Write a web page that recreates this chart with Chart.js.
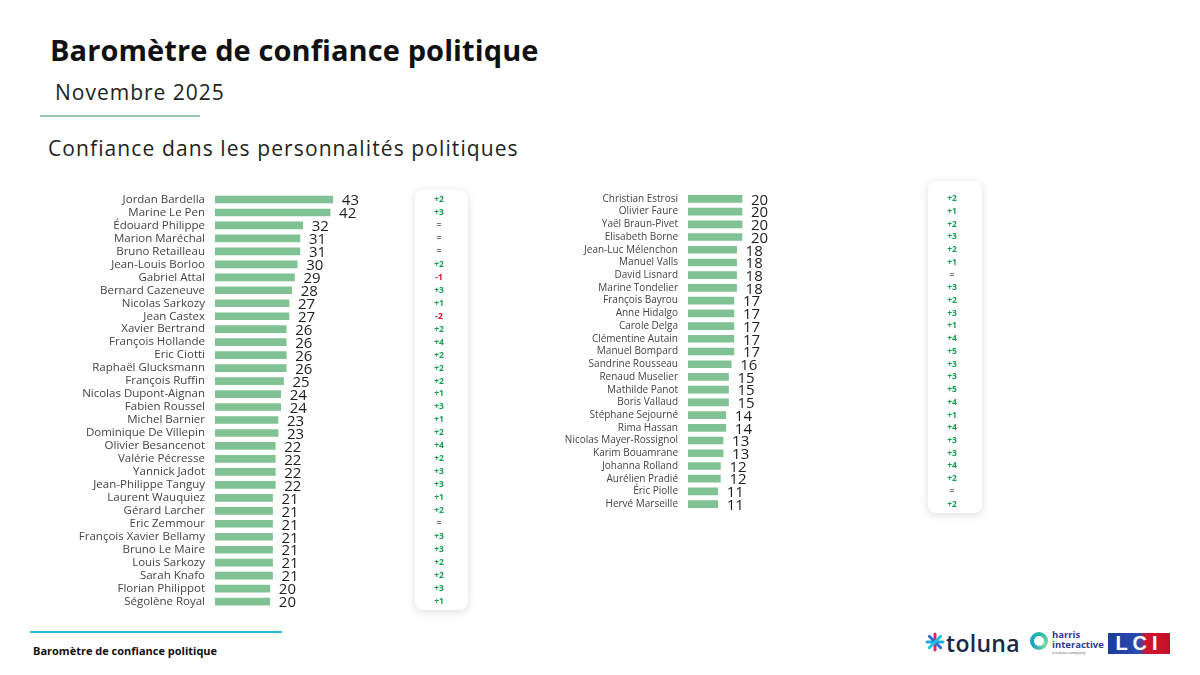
<!DOCTYPE html>
<html lang="fr">
<head>
<meta charset="utf-8">
<title>Baromètre de confiance politique</title>
<script src="https://cdn.jsdelivr.net/npm/chart.js@4.4.1/dist/chart.umd.min.js"></script>
<style>
  body { margin: 0; width: 1200px; height: 675px; background: #fff; position: relative; overflow: hidden; font-family: "Open Sans", sans-serif; color: #1d1d1d; }
  .abs { position: absolute; white-space: nowrap; }
  #title { left: 50px; top: 30px; font-size: 29px; font-weight: 700; color: #111; letter-spacing: 0.1px; }
  #month { left: 55px; top: 78px; font-size: 21px; color: #222; letter-spacing: 1px; }
  #rule1 { left: 40px; top: 115px; width: 160px; height: 2px; background: #9cc3b6; }
  #subtitle { left: 48px; top: 134px; font-size: 21px; color: #222; letter-spacing: 1.1px; }
  #rule2 { left: 30px; top: 631px; width: 252px; height: 2px; background: #2bb8da; }
  #foot { left: 33px; top: 643px; font-size: 11px; font-weight: 700; color: #111; }
  canvas { position: absolute; }
  #toluna { left: 946px; top: 627px; font-size: 23px; font-weight: 600; color: #1b2748; letter-spacing: 0.3px; }
  #ring { left: 1030px; top: 632px; width: 18px; height: 18px; border-radius: 50%; background: conic-gradient(#1fb6a6, #7ddc9b, #1aa0c8, #1fb6a6); }
  #ring::after { content: ""; position: absolute; left: 4px; top: 4px; width: 10px; height: 10px; border-radius: 50%; background: #fff; }
  #harris { left: 1052px; top: 630px; font-size: 9.5px; font-weight: 700; color: #2c3a8f; line-height: 9.5px; }
  #harris small { display: block; font-size: 4px; line-height: 7px; font-weight: 400; color: #555; }
  #lci { left: 1108px; top: 633px; width: 62px; height: 21px; background: linear-gradient(90deg, #1d3c98 0%, #2a4bb0 50%, #d4142d 62%, #c2102a 100%); color: #fff; font-size: 20px; font-weight: 800; line-height: 21px; text-align: center; letter-spacing: 5px; font-family: "Liberation Sans", sans-serif; }
</style>
</head>
<body>
<div id="title" class="abs">Baromètre de confiance politique</div>
<div id="month" class="abs">Novembre 2025</div>
<div id="rule1" class="abs"></div>
<div id="subtitle" class="abs">Confiance dans les personnalités politiques</div>

<canvas id="left" width="440" height="450" style="left:40px; top:175px;"></canvas>
<canvas id="right" width="445" height="360" style="left:550px; top:170px;"></canvas>

<div id="rule2" class="abs"></div>
<div id="foot" class="abs">Baromètre de confiance politique</div>

<svg class="abs" style="left:925px; top:632px;" width="20" height="20" viewBox="0 0 20 20">
  <g stroke-width="3" stroke-linecap="round">
    <line x1="10" y1="2" x2="10" y2="18" stroke="#e6207a"/>
    <line x1="2" y1="10" x2="18" y2="10" stroke="#1fa9e0"/>
    <line x1="4.3" y1="4.3" x2="15.7" y2="15.7" stroke="#2a6fd6"/>
    <line x1="15.7" y1="4.3" x2="4.3" y2="15.7" stroke="#22c3d8"/>
  </g>
</svg>
<div id="toluna" class="abs">toluna</div>
<div id="ring" class="abs"></div>
<div id="harris" class="abs">harris<br>interactive<small>a toluna company</small></div>
<div id="lci" class="abs">LCI</div>

<script>
// Personnalités - colonne gauche
const leftNames = [
  'Jordan Bardella', 'Marine Le Pen', 'Édouard Philippe', 'Marion Maréchal', 'Bruno Retailleau',
  'Jean-Louis Borloo', 'Gabriel Attal', 'Bernard Cazeneuve', 'Nicolas Sarkozy', 'Jean Castex',
  'Xavier Bertrand', 'François Hollande', 'Eric Ciotti', 'Raphaël Glucksmann', 'François Ruffin',
  'Nicolas Dupont-Aignan', 'Fabien Roussel', 'Michel Barnier', 'Dominique De Villepin', 'Olivier Besancenot',
  'Valérie Pécresse', 'Yannick Jadot', 'Jean-Philippe Tanguy', 'Laurent Wauquiez', 'Gérard Larcher',
  'Eric Zemmour', 'François Xavier Bellamy', 'Bruno Le Maire', 'Louis Sarkozy', 'Sarah Knafo',
  'Florian Philippot', 'Ségolène Royal'
];
const leftValues = [43, 42, 32, 31, 31, 30, 29, 28, 27, 27, 26, 26, 26, 26, 25, 24, 24, 23, 23, 22, 22, 22, 22, 21, 21, 21, 21, 21, 21, 21, 20, 20];
const leftChanges = [2, 3, 0, 0, 0, 2, -1, 3, 1, -2, 2, 4, 2, 2, 2, 1, 3, 1, 2, 4, 2, 3, 3, 1, 2, 0, 3, 3, 2, 2, 3, 1];

// Personnalités - colonne droite
const rightNames = [
  'Christian Estrosi', 'Olivier Faure', 'Yaël Braun-Pivet', 'Elisabeth Borne', 'Jean-Luc Mélenchon',
  'Manuel Valls', 'David Lisnard', 'Marine Tondelier', 'François Bayrou', 'Anne Hidalgo',
  'Carole Delga', 'Clémentine Autain', 'Manuel Bompard', 'Sandrine Rousseau', 'Renaud Muselier',
  'Mathilde Panot', 'Boris Vallaud', 'Stéphane Sejourné', 'Rima Hassan', 'Nicolas Mayer-Rossignol',
  'Karim Bouamrane', 'Johanna Rolland', 'Aurélien Pradié', 'Éric Piolle', 'Hervé Marseille'
];
const rightValues = [20, 20, 20, 20, 18, 18, 18, 18, 17, 17, 17, 17, 17, 16, 15, 15, 15, 14, 14, 13, 13, 12, 12, 11, 11];
const rightChanges = [2, 1, 2, 3, 2, 1, 0, 3, 2, 3, 1, 4, 5, 3, 3, 5, 4, 1, 4, 3, 3, 4, 2, 0, 2];

const barColor = '#80c294';

function changeText(d) {
  if (d > 0) return '+' + d;
  if (d < 0) return String(d);
  return '=';
}
function changeColor(d) {
  if (d > 0) return '#169f55';
  if (d < 0) return '#c8102e';
  return '#777';
}

// dessine la carte blanche + les évolutions et les valeurs a coté des barres
function extrasPlugin(values, changes, box, changeX) {
  return {
    id: 'extras',
    beforeDraw(chart) {
      const ctx = chart.ctx;
      ctx.save();
      ctx.shadowColor = 'rgba(0,0,0,0.13)';
      ctx.shadowBlur = 9;
      ctx.shadowOffsetY = 2;
      ctx.fillStyle = '#fff';
      ctx.beginPath();
      ctx.roundRect(box.x, box.y, box.w, box.h, 8);
      ctx.fill();
      ctx.restore();
    },
    afterDatasetsDraw(chart) {
      const ctx = chart.ctx;
      const meta = chart.getDatasetMeta(0);
      ctx.save();
      ctx.textBaseline = 'middle';
      ctx.font = '15px "Open Sans"';
      ctx.fillStyle = '#1e1e1e';
      ctx.textAlign = 'left';
      meta.data.forEach((bar, i) => {
        ctx.fillText(values[i], bar.x + 9, bar.y + 1.5);
      });
      ctx.font = 'bold 8.5px "Open Sans"';
      ctx.textAlign = 'center';
      const yScale = chart.scales.y;
      changes.forEach((d, i) => {
        ctx.fillStyle = changeColor(d);
        ctx.fillText(changeText(d), changeX, yScale.getPixelForValue(i));
      });
      ctx.restore();
    }
  };
}

function makeChart(id, names, values, changes, cfg) {
  return new Chart(document.getElementById(id), {
    type: 'bar',
    data: {
      labels: names,
      datasets: [{
        data: values,
        backgroundColor: barColor,
        borderWidth: 0,
        barThickness: 7
      }]
    },
    options: {
      indexAxis: 'y',
      responsive: false,
      animation: false,
      layout: { padding: cfg.padding },
      plugins: { legend: { display: false }, tooltip: { enabled: false } },
      scales: {
        x: { display: false, min: 0, max: 50 },
        y: {
          grid: { display: false, drawTicks: false },
          border: { display: false },
          afterFit: s => { s.width = cfg.yWidth; },
          ticks: {
            padding: 10,
            color: '#444',
            font: { family: 'Open Sans', size: cfg.nameSize },
            autoSkip: false
          }
        }
      }
    },
    plugins: [extrasPlugin(values, changes, cfg.box, cfg.changeX)]
  });
}

makeChart('left', leftNames, leftValues, leftChanges, {
  yWidth: 175,
  nameSize: 11.5,
  padding: { top: 18, bottom: 9.4, left: 0, right: 128 },
  box: { x: 375, y: 15, w: 53, h: 420 },
  changeX: 399
});

makeChart('right', rightNames, rightValues, rightChanges, {
  yWidth: 138,
  nameSize: 10,
  padding: { top: 22.5, bottom: 19.5, left: 0, right: 172 },
  box: { x: 378, y: 11, w: 54, h: 332 },
  changeX: 402
});
</script>
</body>
</html>
